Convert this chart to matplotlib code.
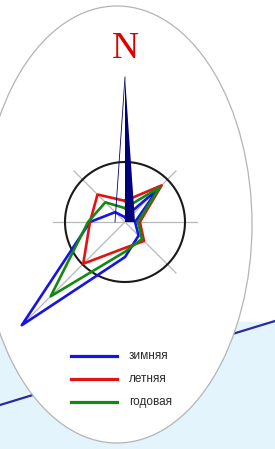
import numpy as np
import matplotlib
matplotlib.use('Agg')
import matplotlib.pyplot as plt
from matplotlib.patches import Ellipse, Rectangle

# Wind rose, repeatability of winds by direction (%)
directions = ['С', 'СВ', 'В', 'ЮВ', 'Ю', 'ЮЗ', 'З', 'СЗ']
winter = [1.0, 9.8, 2.1, 4.0, 7.3, 30.4, 7.3, 2.9]
summer = [4.4, 10.8, 3.1, 5.6, 5.4, 12.3, 7.3, 8.1]
annual = [2.9, 10.2, 2.7, 5.0, 6.2, 21.9, 7.7, 5.8]
labels = ['зимняя', 'летняя', 'годовая']
colors = ['#1414e6', '#e01414', '#128a12']
circle_value = 12.5  # equal repeatability circle

W, H = 275, 449
fig = plt.figure(figsize=(W / 100, H / 100), dpi=100)

# background layer in pixel coordinates
bg = fig.add_axes([0, 0, 1, 1])
bg.set_xlim(0, W)
bg.set_ylim(H, 0)
bg.axis('off')
bg.add_patch(Rectangle((0, 322), W, H - 322, color='#e4f4fc', zorder=0))
bg.plot([0, W], [405, 321], color='#2b2b9e', lw=1.6, zorder=1)
bg.add_patch(Ellipse((117, 224.5), 270, 437, facecolor='white',
                     edgecolor='#b4b4b4', lw=0.9, zorder=2))
bg.text(125, 49, 'N', color='#e00000', fontsize=27, family='Liberation Serif',
        ha='center', va='center', zorder=3)

# legend
for i, (lab, col) in enumerate(zip(labels, colors)):
    y = 356 + i * 23
    bg.plot([71, 117], [y, y], color=col, lw=2.3, zorder=3)
    bg.text(129, y, lab, color='#2a2a2a', fontsize=8.5, family='Liberation Sans',
            ha='left', va='center', zorder=3)

# rose
px = 4.8  # pixels per unit
rmax = 150 / px
cx, cy = 125, 222
ax = fig.add_axes([(cx - 150) / W, (H - cy - 150) / H, 300 / W, 300 / H],
                  projection='polar')
ax.set_theta_zero_location('N')
ax.set_theta_direction(-1)
ax.set_ylim(0, rmax)
ax.axis('off')

theta = np.deg2rad(np.arange(0, 360, 45))
theta_c = np.append(theta, theta[0])

# grey axes
axis_len = [0, 15, 15, 15, 0, 29, 15, 15]
for t, L in zip(theta, axis_len):
    if L > 0:
        ax.plot([t, t], [0, L], color='#b8b8b8', lw=0.9, zorder=1)

tt = np.linspace(0, 2 * np.pi, 300)
ax.plot(tt, np.full_like(tt, circle_value), color='#1a1a1a', lw=1.5, zorder=2)

for vals, col in zip([winter, summer, annual], colors):
    v = np.append(vals, vals[0])
    ax.plot(theta_c, v, color=col, lw=1.9, zorder=3)

# north needle
tip = 145 / px
base = 10 / px
ax.fill([0, 0, np.pi / 2], [tip, 0, base], color='#00007a', lw=0, zorder=4)
ax.plot([0, -np.pi / 2], [tip, base], color='#00007a', lw=0.6, zorder=4)

fig.savefig('out.png', dpi=100)
